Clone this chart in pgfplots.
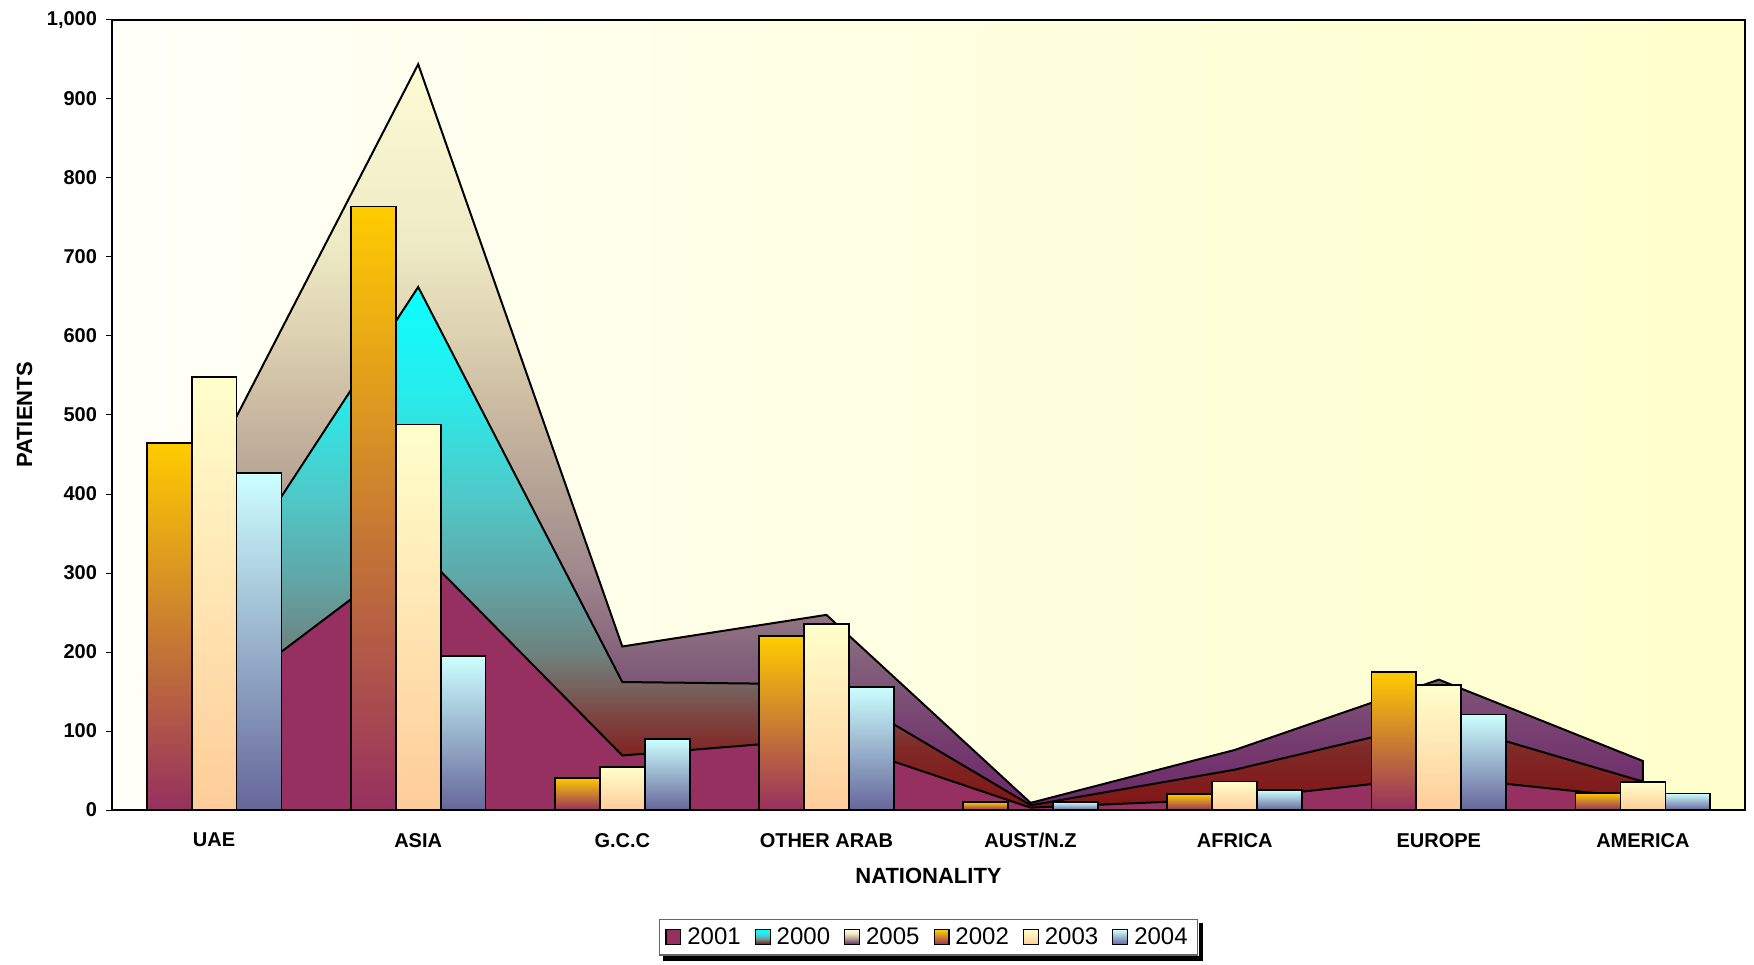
\documentclass[border=0pt]{standalone}
\usepackage{pgfplots}
\pgfplotsset{compat=1.18}
\usepackage{fontspec}
\setmainfont{Liberation Sans}
\usetikzlibrary{calc}

\definecolor{plum}{RGB}{150,48,96}
\definecolor{paleyel}{RGB}{255,255,204}
\definecolor{gold}{RGB}{255,204,0}
\definecolor{peach}{RGB}{255,204,153}
\definecolor{iceblue}{RGB}{204,255,255}
\definecolor{slate}{RGB}{102,102,153}
\definecolor{bgleft}{RGB}{255,255,248}

% gradient stops for the 2005 area (bottom to top)
\definecolor{fa0}{RGB}{108,38,104}
\definecolor{fa1}{RGB}{118,62,112}
\definecolor{fa2}{RGB}{130,96,122}
\definecolor{fa3}{RGB}{160,136,140}
\definecolor{fa4}{RGB}{178,160,148}
\definecolor{fa5}{RGB}{200,184,160}
\definecolor{fa6}{RGB}{221,210,178}
\definecolor{fa7}{RGB}{238,234,198}
\definecolor{fa8}{RGB}{252,252,212}
% gradient stops for the 2000 area
\definecolor{fb0}{RGB}{128,20,20}
\definecolor{fb1}{RGB}{128,42,40}
\definecolor{fb2}{RGB}{122,80,76}
\definecolor{fb3}{RGB}{110,130,126}
\definecolor{fb4}{RGB}{96,168,168}
\definecolor{fb5}{RGB}{80,200,200}
\definecolor{fb6}{RGB}{40,236,236}
\definecolor{fb7}{RGB}{10,255,255}

\pgfdeclareverticalshading{sh2005}{100bp}{
  color(0bp)=(fa0); color(25bp)=(fa0); color(30bp)=(fa1); color(35bp)=(fa2);
  color(41bp)=(fa3); color(46bp)=(fa4); color(51.5bp)=(fa5); color(57bp)=(fa6);
  color(63bp)=(fa7); color(75bp)=(fa8); color(100bp)=(fa8)}
\pgfdeclareverticalshading{sh2000}{100bp}{
  color(0bp)=(fb0); color(25bp)=(fb0); color(31bp)=(fb1); color(35bp)=(fb2);
  color(40bp)=(fb3); color(47.5bp)=(fb4); color(55bp)=(fb5); color(65bp)=(fb6);
  color(75bp)=(fb7); color(100bp)=(fb7)}

\tikzset{
  a2001/.style={draw=black, line width=1pt, fill=plum},
  a2000/.style={draw=black, line width=1pt, shading=sh2000},
  a2005/.style={draw=black, line width=1pt, shading=sh2005},
  b2002/.style={draw=black, line width=0.9pt, top color=gold, bottom color=plum},
  b2003/.style={draw=black, line width=0.9pt, top color=paleyel, bottom color=peach},
  b2004/.style={draw=black, line width=0.9pt, top color=iceblue, bottom color=slate},
}
\pgfplotsset{
  c2002/.style={ybar, bar width=0.22, bar shift=-0.22, b2002, forget plot},
  c2003/.style={ybar, bar width=0.22, bar shift=0, b2003, forget plot},
  c2004/.style={ybar, bar width=0.22, bar shift=0.22, b2004, forget plot},
}

\begin{document}
\begin{tikzpicture}
\useasboundingbox (-56pt,-77pt) rectangle (821pt,405pt);
\begin{axis}[
  scale only axis,
  width=816.5pt, height=395pt,
  xmin=-0.5, xmax=7.5,
  ymin=0, ymax=1000,
  ytick={0,100,...,1000},
  xtick={0,...,7},
  xticklabels={UAE,ASIA,G.C.C,OTHER ARAB,AUST/N.Z,AFRICA,EUROPE,AMERICA},
  minor xtick={-0.5,0.5,...,7.5},
  major x tick style={draw=none},
  minor x tick style={black, line width=0.5pt},
  minor tick length=5.5pt,
  xtick pos=bottom, ytick pos=left,
  ytick align=outside,
  major tick length=3pt,
  y tick style={black, line width=0.5pt},
  axis line style={black, line width=0.6pt},
  axis background/.style={left color=bgleft, right color=paleyel},
  /pgf/number format/.cd, 1000 sep={,}, assume math mode=true, /pgfplots/.cd,
  yticklabel style={font=\bfseries\fontsize{10}{12}\selectfont, xshift=-1pt},
  xticklabel style={font=\bfseries\fontsize{10}{12}\selectfont, yshift=-8pt},
  xlabel={NATIONALITY}, ylabel={PATIENTS},
  every axis x label/.style={at={(axis description cs:0.5,-0.0835)}, anchor=center, font=\bfseries\fontsize{11}{13}\selectfont},
  every axis y label/.style={at={(axis description cs:-0.0535,0.5)}, rotate=90, anchor=center, font=\bfseries\fontsize{11}{13}\selectfont},
  legend columns=6,
  legend image code/.code={\draw[#1, line width=0.6pt] (0pt,-3.7pt) rectangle (7.4pt,3.7pt);},
  legend style={name=leg, at={(axis description cs:0.5,-0.161)}, anchor=center,
    draw=black!60, line width=0.6pt, fill=white,
    font=\fontsize{12}{14}\selectfont, inner xsep=3pt, inner ysep=2pt,
    /tikz/every odd column/.append style={column sep=1pt},
    /tikz/every even column/.append style={column sep=5pt}},
]
\addlegendimage{a2001}\addlegendentry{2001}
\addlegendimage{a2000}\addlegendentry{2000}
\addlegendimage{a2005}\addlegendentry{2005}
\addlegendimage{b2002}\addlegendentry{2002}
\addlegendimage{b2003}\addlegendentry{2003}
\addlegendimage{b2004}\addlegendentry{2004}

% areas, back to front
\addplot[a2005, forget plot] coordinates {
  (0,443) (1,944) (2,207) (3,247) (4,9) (5,76) (6,165) (7,62)
} \closedcycle;
\addplot[a2000, forget plot] coordinates {
  (0,266) (1,662) (2,162) (3,159) (4,6) (5,51) (6,112) (7,36)
} \closedcycle;
\addplot[a2001, forget plot] coordinates {
  (0,136) (1,331) (2,69) (3,90) (4,3) (5,14) (6,42) (7,15)
} \closedcycle;

% columns, one path per bar so that each gets its own gradient
% 2002
\addplot[c2002] coordinates {(0,465)};
\addplot[c2002] coordinates {(1,764)};
\addplot[c2002] coordinates {(2,41)};
\addplot[c2002] coordinates {(3,220)};
\addplot[c2002] coordinates {(4,10)};
\addplot[c2002] coordinates {(5,20)};
\addplot[c2002] coordinates {(6,175)};
\addplot[c2002] coordinates {(7,22)};
% 2003
\addplot[c2003] coordinates {(0,548)};
\addplot[c2003] coordinates {(1,488)};
\addplot[c2003] coordinates {(2,54)};
\addplot[c2003] coordinates {(3,235)};
\addplot[c2003] coordinates {(5,36)};
\addplot[c2003] coordinates {(6,158)};
\addplot[c2003] coordinates {(7,35)};
% 2004
\addplot[c2004] coordinates {(0,427)};
\addplot[c2004] coordinates {(1,195)};
\addplot[c2004] coordinates {(2,90)};
\addplot[c2004] coordinates {(3,156)};
\addplot[c2004] coordinates {(4,10)};
\addplot[c2004] coordinates {(5,25)};
\addplot[c2004] coordinates {(6,121)};
\addplot[c2004] coordinates {(7,21)};
\end{axis}
% legend shadow
\path (leg.south west) coordinate (lsw) (leg.north east) coordinate (lne);
\fill[black] ($(lne)+(0.3pt,-2.2pt)$) rectangle ($(lne |- lsw)+(2.5pt,-2.5pt)$);
\fill[black] ($(lsw)+(2.2pt,-0.3pt)$) rectangle ($(lne |- lsw)+(2.5pt,-2.5pt)$);
\end{tikzpicture}
\end{document}
